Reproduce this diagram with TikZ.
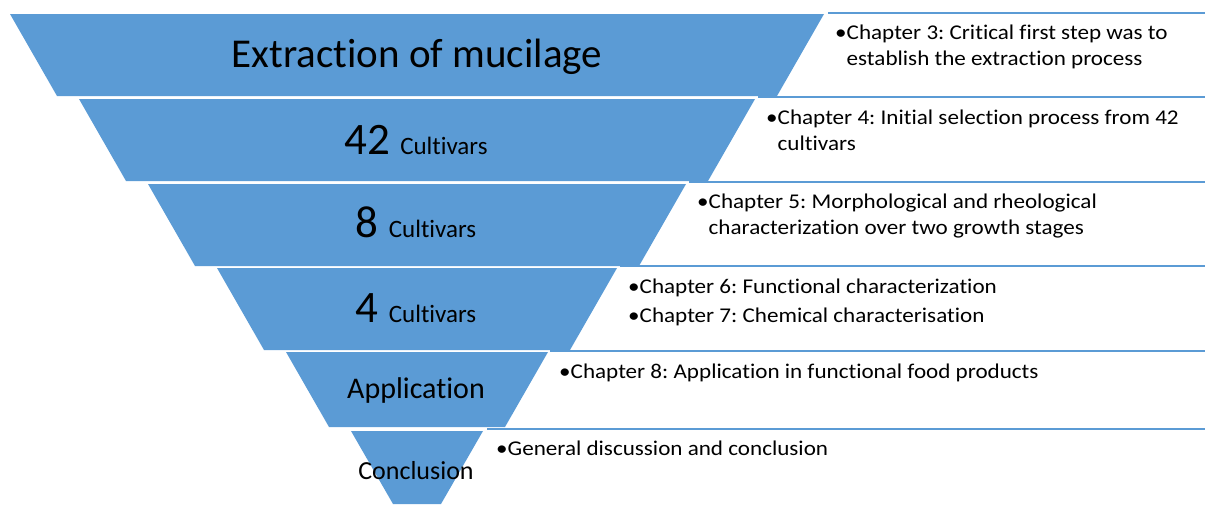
\documentclass[tikz,border=0pt]{standalone}
\usepackage{fontspec}
\setmainfont{Carlito}[RawFeature=-liga]
\newfontfamily\rtfont{Carlito}[FakeStretch=1.1,RawFeature=-liga]
\definecolor{fblue}{RGB}{91,155,213}
\frenchspacing
\begin{document}
\begin{tikzpicture}[x=1pt,y=-1pt,
  band/.style={fill=fblue,draw=none},
  tline/.style={draw=fblue,line width=2.5pt},
  rtext/.style={anchor=base west,inner sep=0pt,font=\rtfont\fontsize{21}{25}\selectfont\frenchspacing,text=black},
  btext/.style={anchor=base,inner sep=0pt,text=black},
]
\useasboundingbox (0,0) rectangle (1205,504);
% funnel bands
\fill[band] (10,14) -- (824,14) -- (777,96) -- (57,96) -- cycle;
\fill[band] (79,99) -- (755,99) -- (708,181) -- (126,181) -- cycle;
\fill[band] (148,184) -- (686,184) -- (639,266) -- (195,266) -- cycle;
\fill[band] (217,268) -- (617,268) -- (570,350) -- (264,350) -- cycle;
\fill[band] (286,352) -- (548,352) -- (505,427) -- (329,427) -- cycle;
\fill[band] (351,431) -- (483,431) -- (441,504) -- (393,504) -- cycle;
% text region lines
\coordinate (l1a) at (828,13); \coordinate (l1b) at (1205,13);
\coordinate (l2a) at (758,97); \coordinate (l2b) at (1205,97);
\coordinate (l3a) at (689,182); \coordinate (l3b) at (1205,182);
\coordinate (l4a) at (620,266); \coordinate (l4b) at (1205,266);
\coordinate (l5a) at (550,351); \coordinate (l5b) at (1205,351);
\coordinate (l6a) at (487,429); \coordinate (l6b) at (1205,429);
\draw[tline] (l1a) -- (l1b);
\draw[tline] (l2a) -- (l2b);
\draw[tline] (l3a) -- (l3b);
\draw[tline] (l4a) -- (l4b);
\draw[tline] (l5a) -- (l5b);
\draw[tline] (l6a) -- (l6b);
% funnel labels
\node[btext,font=\fontsize{41}{48}\selectfont] (t1) at (417,67) {Extraction of mucilage};
\node[btext] (t2) at (416,154) {\fontsize{45}{50}\selectfont 42 \fontsize{25}{30}\selectfont Cultivars};
\node[btext] (t3) at (416,237) {\fontsize{45}{50}\selectfont 8 \fontsize{25}{30}\selectfont Cultivars};
\node[btext] (t4) at (416,322) {\fontsize{45}{50}\selectfont 4 \fontsize{25}{30}\selectfont Cultivars};
\node[btext,font=\fontsize{30}{36}\selectfont] (t5) at (416,398) {Application};
\node[btext,font=\fontsize{26}{31}\selectfont] (t6) at (416,479) {Conclusion};
% chapter texts
\node[rtext] (c3a) at (835,39) {•Chapter 3: Critical first step was to};
\node[rtext] (c3b) at (835,65) {\phantom{•}establish the extraction process};
\node[rtext] (c4a) at (766,124) {•Chapter 4: Initial selection process from 42};
\node[rtext] (c4b) at (766,150) {\phantom{•}cultivars};
\node[rtext] (c5a) at (697,208) {•Chapter 5: Morphological and rheological};
\node[rtext] (c5b) at (697,234) {\phantom{•}characterization over two growth stages};
\node[rtext] (c6) at (628,293) {•Chapter 6: Functional characterization};
\node[rtext] (c7) at (628,322) {•Chapter 7: Chemical characterisation};
\node[rtext] (c8) at (559,378) {•Chapter 8: Application in functional food products};
\node[rtext] (c9) at (496,455) {•General discussion and conclusion};
\end{tikzpicture}
\end{document}
